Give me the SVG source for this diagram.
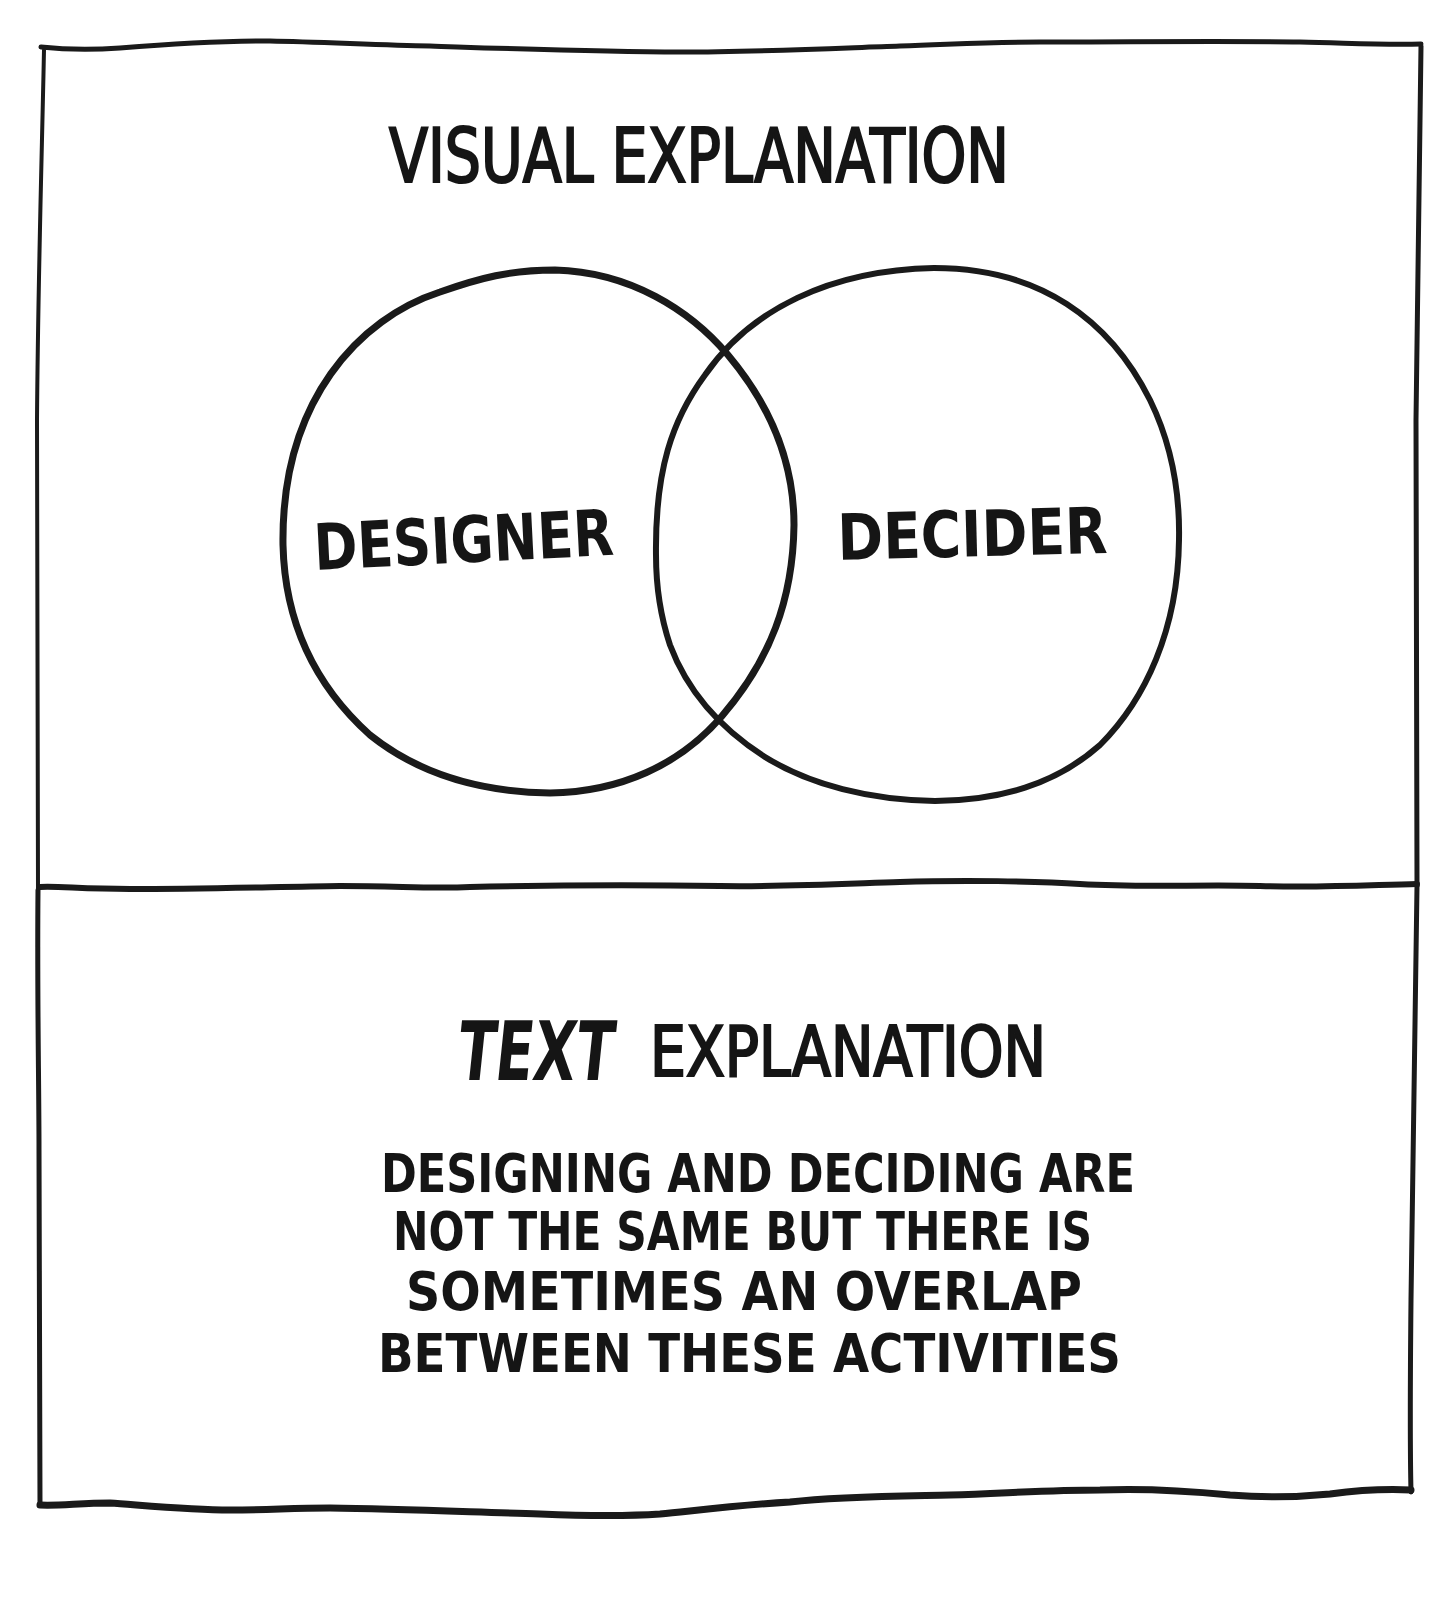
<svg xmlns="http://www.w3.org/2000/svg" width="1439" height="1600" viewBox="0 0 1439 1600">
<style>
.ln{fill:none;stroke:#1a1a1a;stroke-linecap:round;stroke-linejoin:round}
.t{font-family:"Liberation Sans Narrow","DejaVu Sans Condensed","Liberation Sans",sans-serif;fill:#151515}
.h{font-weight:normal;stroke:#151515;stroke-width:2.2}
.b{font-weight:bold}
</style>
<rect width="1439" height="1600" fill="#ffffff"/>
<g id="frame">
<path class="ln" stroke-width="5" d="M41,47 C60,49 90,50 120,48 C170,44 220,41 270,41 C320,42 380,45 430,46 C520,49 600,52 680,52 C760,52 840,48 900,46 C960,44 990,42 1040,42 C1130,42 1220,41 1300,42 C1350,43 1380,45 1421,44"/>
<path class="ln" stroke-width="4" d="M44,50 C42,150 38,280 37,420 C36,560 37,700 38,890"/>
<path class="ln" stroke-width="5" d="M1421,46 C1420,200 1417,320 1416,420 C1415,560 1417,720 1417,886"/>
<path class="ln" stroke-width="5" d="M38,890 C37,1000 39,1080 39,1150 C40,1280 40,1400 40,1505"/>
<path class="ln" stroke-width="5" d="M1417,886 C1415,1000 1412,1150 1411,1300 C1410,1400 1410,1450 1411,1492"/>
<path class="ln" stroke-width="7" d="M40,1505 C60,1506 80,1503 110,1503 C140,1505 190,1510 230,1510 C270,1510 290,1508 330,1508 C400,1509 470,1512 540,1514 C590,1516 630,1516 660,1514 C700,1510 740,1505 790,1502 C840,1496 900,1496 950,1495 C1010,1493 1050,1490 1100,1490 C1150,1488 1190,1491 1230,1495 C1270,1498 1300,1497 1330,1494 C1360,1490 1390,1489 1411,1490"/>
</g>
<g id="divider">
<path class="ln" stroke-width="6" d="M40,887 C60,886 80,889 130,889 C200,889 270,887 340,886 C400,886 430,889 470,887 C560,885 640,885 720,886 C780,887 840,884 900,882 C960,880 1040,881 1080,884 C1150,888 1200,884 1260,886 C1320,888 1370,885 1417,884"/>
</g>
<g id="title-visual">
<text class="t h" x="389" y="182" font-size="74" textLength="620" lengthAdjust="spacingAndGlyphs">VISUAL EXPLANATION</text>
</g>
<g id="circle-designer">
<path class="ln" stroke-width="7" d="M283,545 C281,400 360,318 440,292 C480,278 510,270 555,270 C630,272 690,310 728,355 C770,405 794,460 794,525 C793,600 770,660 722,716 C680,765 620,792 550,793 C480,792 420,775 370,735 C320,690 285,630 283,545 Z"/>
<text class="t b" x="315" y="570" font-size="64" textLength="300" lengthAdjust="spacingAndGlyphs" transform="rotate(-2.9 315 570)">DESIGNER</text>
</g>
<g id="circle-decider">
<path class="ln" stroke-width="6" d="M656,555 C655,470 672,420 705,375 C750,310 830,270 934,268 C1040,268 1110,320 1150,400 C1172,445 1180,490 1179,540 C1178,630 1145,700 1100,745 C1055,785 1000,800 935,801 C870,800 810,785 765,757 C715,725 685,685 670,645 C660,615 656,585 656,555 Z"/>
<text class="t b" x="838" y="560" font-size="64" textLength="270" lengthAdjust="spacingAndGlyphs" transform="rotate(-1.5 838 560)">DECIDER</text>
</g>
<g id="title-text">
<text class="t b" x="456" y="1080" font-size="82" textLength="156" lengthAdjust="spacingAndGlyphs" transform="skewX(-6) translate(113 0)">TEXT</text>
<text class="t h" x="650" y="1076" font-size="70" textLength="396" lengthAdjust="spacingAndGlyphs">EXPLANATION</text>
</g>
<g id="body-text">
<text class="t b" x="381" y="1192" font-size="54" textLength="754" lengthAdjust="spacingAndGlyphs">DESIGNING AND DECIDING ARE</text>
<text class="t b" x="393" y="1250" font-size="54" textLength="699" lengthAdjust="spacingAndGlyphs">NOT THE SAME BUT THERE IS</text>
<text class="t b" x="406" y="1310" font-size="54" textLength="676" lengthAdjust="spacingAndGlyphs">SOMETIMES AN OVERLAP</text>
<text class="t b" x="378" y="1372" font-size="54" textLength="743" lengthAdjust="spacingAndGlyphs">BETWEEN THESE ACTIVITIES</text>
</g>
</svg>
